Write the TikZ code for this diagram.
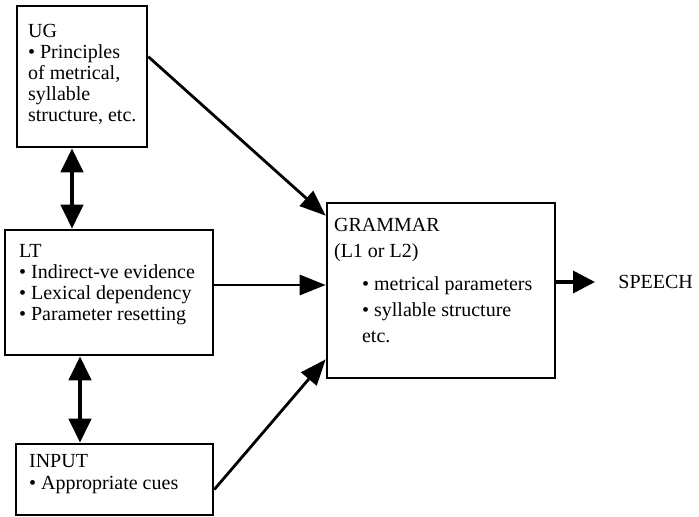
\documentclass[tikz,border=0pt]{standalone}
\usepackage{fontspec}
\setmainfont{Liberation Serif}
\usetikzlibrary{arrows.meta,fit,positioning}
\begin{document}
\begin{tikzpicture}[x=0.5pt,y=-0.5pt,
    box/.style={draw, line width=1.3pt, inner sep=0pt},
    txt/.style={anchor=north west, inner sep=0pt, align=left, font=\fontsize{10}{10.5}\selectfont},
    arr/.style={line width=1.4pt, -{Triangle[length=13pt,width=10pt]}},
    dblarrow/.style={line width=2.2pt, {Triangle[length=12pt,width=11pt]}-{Triangle[length=12pt,width=11pt]}}]
    \useasboundingbox (0,0) rectangle (699,517);

    % --- BOXES ---
    \node[box, fit={(17,6) (147,147)}] (ug) {};
    \node[box, fit={(5,230) (213,355)}] (lt) {};
    \node[box, fit={(16,444) (213,515)}] (input) {};
    \node[box, fit={(327,203) (555,378)}] (gram) {};

    % --- TEXTS ---
    \node[txt] (ugtext) at ([shift={(12,19)}]ug.north west)
        {UG\\• Principles\\of metrical,\\syllable\\structure, etc.};
    \node[txt] (lttext) at ([shift={(15,15)}]lt.north west)
        {LT\\• Indirect-ve evidence\\• Lexical dependency\\• Parameter resetting};
    \node[txt, font=\fontsize{10}{11}\selectfont] (inputtext) at ([shift={(14,11)}]input.north west)
        {INPUT\\• Appropriate cues};
    \node[txt, font=\fontsize{10}{13}\selectfont] (gramhead) at ([shift={(8,16)}]gram.north west)
        {GRAMMAR\\(L1 or L2)};
    \node[txt, font=\fontsize{10}{13}\selectfont] (gramlist) at ([shift={(36,75)}]gram.north west)
        {• metrical parameters\\• syllable structure\\etc.};
    \node[anchor=west, inner sep=0pt, inner xsep=11.5pt, font=\fontsize{10}{12}\selectfont] (speech) at (595,282) {SPEECH};

    % --- ARROWS ---
    \draw[dblarrow] ([xshift=-5pt]ug.south) -- ([xshift=-5pt]ug.south |- lt.north);
    \draw[dblarrow] ([xshift=-14.5pt]lt.south) -- ([xshift=-14.5pt]lt.south |- input.north);
    \draw[arr] ([yshift=-26pt]ug.north east) -- ([yshift=-7pt]gram.north west);
    \draw[arr] ([yshift=3.75pt]lt.east) -- ([yshift=3.75pt]lt.east -| gram.west);
    \draw[arr] ([yshift=-5pt]input.east) -- ([yshift=10pt]gram.south west);
    \draw[arr, line width=1.8pt, -{Triangle[length=11pt,width=11pt]}] ([yshift=4.25pt]gram.east) -- (speech.west);

\end{tikzpicture}
\end{document}
